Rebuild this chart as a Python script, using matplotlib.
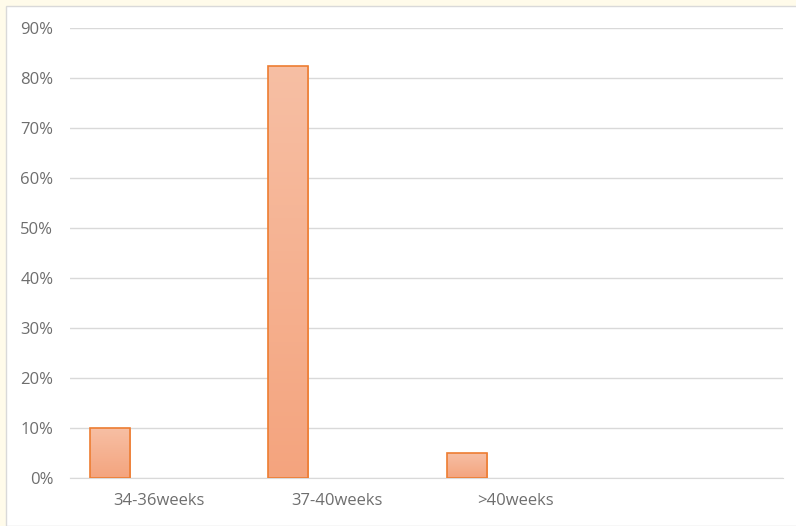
import numpy as np
import matplotlib.pyplot as plt
from matplotlib.colors import LinearSegmentedColormap
from matplotlib.patches import Rectangle

# data
categories = ['34-36weeks', '37-40weeks', '>40weeks', '']
values = [10, 82.5, 5, None]
yticks = [0, 10, 20, 30, 40, 50, 60, 70, 80, 90]

fig = plt.figure(figsize=(7.96, 5.26), dpi=100)
fig.patch.set_facecolor('#FFFBEA')

# white chart area with thin grey border
bg = Rectangle((6 / 796, 0), 1, 1 - 6 / 526, transform=fig.transFigure,
               facecolor='white', edgecolor='#D9D9D9', linewidth=1.0, zorder=-10)
fig.patches.append(bg)

ax = fig.add_axes([70 / 796, 48 / 526, 713 / 796, 450 / 526])
ax.set_facecolor('none')
ax.set_xlim(-0.5, 3.5)
ax.set_ylim(0, 90)

grad = LinearSegmentedColormap.from_list('g', ['#F4A47E', '#F7BFA4'])
bw = 40 / 178
off = -49 / 178
for i, v in enumerate(values):
    if v is None:
        continue
    x0 = i + off - bw / 2
    im = ax.imshow(np.linspace(0, 1, 100).reshape(-1, 1), cmap=grad,
                   aspect='auto', extent=[x0, x0 + bw, 0, v], origin='lower', zorder=2)
    r = Rectangle((x0, 0), bw, v, facecolor='none', edgecolor='#ED7D31',
                  linewidth=1.2, zorder=3)
    ax.add_patch(r)
    im.set_clip_path(r)

ax.set_yticks(yticks)
ax.set_yticklabels([f'{t}%' for t in yticks])
ax.set_xticks(range(len(categories)))
ax.set_xticklabels(categories)
ax.grid(axis='y', color='#D9D9D9', linewidth=1.0, zorder=1)
ax.set_axisbelow(True)
for s in ['top', 'right', 'left']:
    ax.spines[s].set_visible(False)
ax.spines['bottom'].set_color('#D9D9D9')
ax.tick_params(length=0, colors='#6E6E6E', labelsize=12)
ax.tick_params(axis='y', pad=12)
ax.tick_params(axis='x', pad=11)
for lab in ax.get_xticklabels() + ax.get_yticklabels():
    lab.set_fontfamily('Open Sans')
ax.set_xlim(-0.5, 3.5)
ax.set_ylim(0, 90)

fig.savefig('out.png', dpi=100, facecolor=fig.get_facecolor())
